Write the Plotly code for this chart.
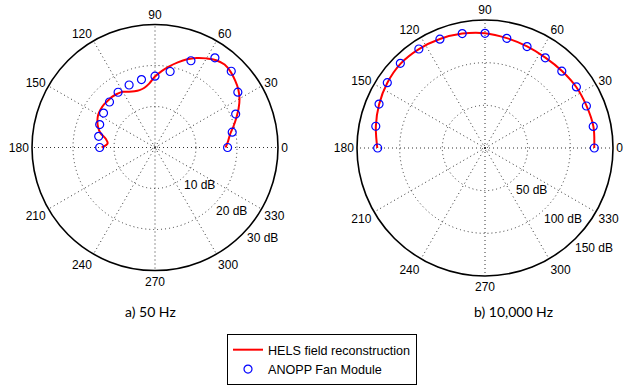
import math
import plotly.graph_objects as go

# ---------------- data ----------------
angle_ticks = [0, 30, 60, 90, 120, 150, 180, 210, 240, 270, 300, 330]

marker_theta = [0, 11.25, 22.5, 33.75, 45, 56.25, 67.5, 78.75, 90,
                101.25, 112.5, 123.75, 135, 146.25, 157.5, 168.75, 180]

# a) 50 Hz
left_line_theta = [0, 5, 10, 15, 20, 25, 30, 35, 40, 45, 50, 55, 60, 65, 70, 75, 80, 85, 90,
                   95, 100, 105, 110, 115, 120, 125, 130, 135, 140, 145, 150, 155, 160, 165,
                   170, 175, 180]
left_line_r = [17.2, 17.9, 18.6, 19.8, 21.1, 22.5, 23.8, 24.8, 25.5, 26.1, 26.4, 26.0, 25.1,
               24.1, 22.9, 21.5, 20.1, 18.7, 17.3, 15.7, 14.8, 14.5, 14.6, 15.0, 15.7, 16.0,
               16.2, 16.2, 16.3, 16.2, 16.0, 15.5, 14.8, 13.8, 12.2, 11.6, 13.0]
left_marker_r = [17.7, 19.2, 21.3, 24.3, 26.3, 26.3, 22.9, 18.9, 17.4, 16.9, 16.5, 16.2,
                 15.7, 15.1, 14.6, 14.0, 13.5]
left_rticks = [0.6, 10, 20, 30]
left_rlabels = ["10 dB", "20 dB", "30 dB"]
left_rlabel_vals = [10, 20, 30]

# b) 10,000 Hz
right_line_r = [128.0, 129.5, 128.8, 128.6, 127.6, 127.4, 128.9, 131.3, 134.6, 136.7,
                138.2, 139.4, 139.8, 137.6, 134.3, 130.4, 126.2]
right_marker_r = [128.1, 129.3, 128.6, 128.8, 127.3, 127.1, 128.7, 131.0, 134.4, 136.7,
                  138.1, 139.5, 140.3, 137.7, 134.4, 130.5, 125.8]
right_rticks = [3, 50, 100, 150]
right_rlabels = ["50 dB", "100 dB", "150 dB"]
right_rlabel_vals = [50, 100, 150]

# ---------------- figure ----------------
W, H = 629, 387
LINE = dict(color="#ff0000", width=2, shape="spline")
MARK = dict(symbol="circle-open", size=8, color="#0000ff", line=dict(width=1.2, color="#0000ff"))
FONT = "Liberation Sans, Arial, sans-serif"
GRID = dict(gridcolor="#333333", griddash="1px,3px", gridwidth=1)

fig = go.Figure()

fig.add_trace(go.Scatterpolar(r=left_line_r, theta=left_line_theta, mode="lines", line=LINE,
                              name="HELS field reconstruction", subplot="polar"))
fig.add_trace(go.Scatterpolar(r=left_marker_r, theta=marker_theta, mode="markers", marker=MARK,
                              name="ANOPP Fan Module", subplot="polar"))
fig.add_trace(go.Scatterpolar(r=right_line_r, theta=marker_theta, mode="lines", line=LINE,
                              showlegend=False, subplot="polar2"))
fig.add_trace(go.Scatterpolar(r=right_marker_r, theta=marker_theta, mode="markers", marker=MARK,
                              showlegend=False, subplot="polar2"))

POLARS = [
    # (cx, cy, radius) in pixels, rmax, ticks, labels, label values, label angle, label offset
    dict(cx=155, cy=147.5, rad=123, rmax=30, ticks=left_rticks, labels=left_rlabels,
         vals=left_rlabel_vals, ang=-40, off=4.2),
    dict(cx=485, cy=148, rad=128, rmax=150, ticks=right_rticks, labels=right_rlabels,
         vals=right_rlabel_vals, ang=-42.5, off=23.5),
]


def polar(p):
    cx, cy, rad = p["cx"], p["cy"], p["rad"]
    return dict(
        domain=dict(x=[(cx - rad) / W, (cx + rad) / W],
                    y=[(H - cy - rad) / H, (H - cy + rad) / H]),
        bgcolor="white",
        radialaxis=dict(range=[0, p["rmax"]], tickmode="array", tickvals=p["ticks"],
                        showticklabels=False, ticks="", showline=False, **GRID),
        angularaxis=dict(tickmode="array", tickvals=angle_ticks,
                         ticktext=[str(a) for a in angle_ticks],
                         direction="counterclockwise", rotation=0, ticks="",
                         showline=True, linecolor="black", linewidth=1.6,
                         tickfont=dict(size=12, color="black", family=FONT), **GRID),
    )


annotations = []
for p in POLARS:
    a = math.radians(p["ang"])
    for lab, v in zip(p["labels"], p["vals"]):
        rp = (v + p["off"]) / p["rmax"] * p["rad"]
        x = p["cx"] + rp * math.cos(a)
        y = p["cy"] - rp * math.sin(a)
        annotations.append(dict(text=lab, x=x / W, y=(H - y) / H, xref="paper", yref="paper",
                                xanchor="center", yanchor="middle", showarrow=False,
                                font=dict(size=12, color="black", family=FONT)))

SUB_FONT = dict(size=14, color="black", family="Lato, Open Sans, sans-serif")
annotations += [
    dict(text="a) 50 Hz", x=150 / W, y=(H - 311) / H, xref="paper", yref="paper",
         xanchor="center", yanchor="middle", showarrow=False, font=SUB_FONT),
    dict(text="b) 10,000 Hz", x=513 / W, y=(H - 311) / H, xref="paper", yref="paper",
         xanchor="center", yanchor="middle", showarrow=False, font=SUB_FONT),
]

fig.update_layout(
    width=W, height=H,
    margin=dict(l=0, r=0, t=0, b=0),
    paper_bgcolor="white",
    polar=polar(POLARS[0]),
    polar2=polar(POLARS[1]),
    showlegend=True,
    legend=dict(x=322 / W, xanchor="center", y=2 / H, yanchor="bottom",
                bgcolor="white", bordercolor="black", borderwidth=1,
                font=dict(size=12.6, color="black", family=FONT),
                tracegroupgap=0, itemwidth=30),
    annotations=annotations,
)

fig.write_html("out.html")
